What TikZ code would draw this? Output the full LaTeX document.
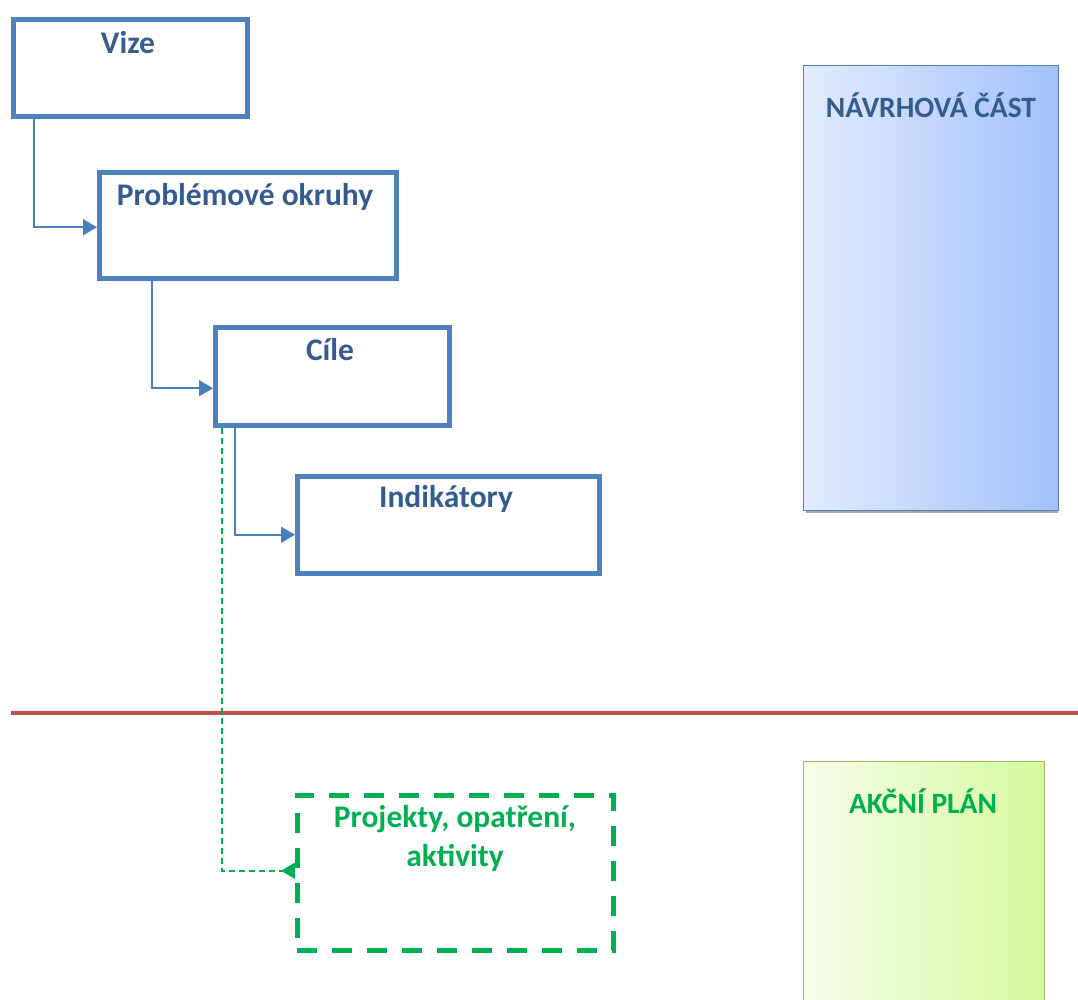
\documentclass[tikz,border=0pt]{standalone}
\usepackage{fontspec}
\setmainfont{Carlito}
\usetikzlibrary{arrows.meta,calc,shadings}
\definecolor{boxblue}{RGB}{79,129,189}
\definecolor{lineblue}{RGB}{74,126,187}
\definecolor{txtblue}{RGB}{52,92,143}
\definecolor{gr}{RGB}{0,176,80}
\definecolor{redline}{RGB}{192,80,77}
\definecolor{grborder}{RGB}{155,187,89}
\tikzset{
  bluebox/.style={draw=boxblue, line width=4.5pt, inner sep=0pt},
  lbl/.style={font=\fontsize{31.5}{39}\selectfont\bfseries, text=txtblue, inner sep=0pt, align=center},
  caplbl/.style={lbl, font=\fontsize{29.5}{35}\selectfont\bfseries},
  conn/.style={draw=lineblue, line width=1.6pt, -{Triangle[length=14pt,width=16pt]}},
}
\begin{document}
\begin{tikzpicture}[x=1pt,y=-1pt]
\useasboundingbox (0,0) rectangle (1078,999);
% red divider
\coordinate (rl) at (11,713);
\coordinate (rr) at (1078,713);
\draw[redline, line width=3.5pt] (rl) -- (rr);
% right panels
\fill[gray!70] (806,65) rectangle (1058,513);
\node[draw=boxblue, line width=1.4pt, shading=axis, left color={rgb,255:red,226;green,235;blue,253}, right color={rgb,255:red,163;green,193;blue,249}, minimum width=255pt, minimum height=445pt, anchor=north west, inner sep=0pt] (navrh) at (803,65) {};
\node[caplbl] (navrht) at (931,105) {NÁVRHOVÁ ČÁST};
\node[draw=grborder, line width=1.4pt, shading=axis, left color={rgb,255:red,246;green,253;blue,233}, right color={rgb,255:red,214;green,249;blue,158}, minimum width=241pt, minimum height=260pt, anchor=north west, inner sep=0pt] (akc) at (803,761) {};
\node[caplbl, text=gr] (akct) at (923,801) {AKČNÍ PLÁN};
% boxes
\node[bluebox, minimum width=234pt, minimum height=97pt, anchor=north west] (vize) at (11,17) {};
\node[lbl] (vizet) at (128,43) {Vize};
\node[bluebox, minimum width=297pt, minimum height=106pt, anchor=north west] (prob) at (97,170) {};
\node[lbl] (probt) at (245,197) {Problémové okruhy};
\node[bluebox, minimum width=234pt, minimum height=98pt, anchor=north west] (cile) at (213,325) {};
\node[lbl] (cilet) at (330,350) {Cíle};
\node[bluebox, minimum width=302pt, minimum height=97pt, anchor=north west] (ind) at (295,474) {};
\node[lbl] (indt) at (446,499) {Indikátory};
\node[draw=gr, line width=4.5pt, dash pattern=on 20pt off 15pt, minimum width=316pt, minimum height=155pt, anchor=north west, inner sep=0pt] (proj) at (295,793) {};
\node[lbl, text=gr] (projt) at (455,838) {Projekty, opatření,\\aktivity};
% connectors
\draw[conn] ($(vize.south west)+(23,0)$) |- ($(prob.west)+(0,2)$);
\draw[conn] ($(prob.south west)+(55,0)$) |- ($(cile.west)+(0,12)$);
\draw[conn] ($(cile.south west)+(22,0)$) |- ($(ind.west)+(0,10)$);
\draw[gr, line width=1.5pt, dash pattern=on 6pt off 4pt, -{Triangle[reversed,length=14pt,width=16pt]}] ($(cile.south west)+(9,0)$) |- ($(proj.west)+(0,-2)$);
\end{tikzpicture}
\end{document}
